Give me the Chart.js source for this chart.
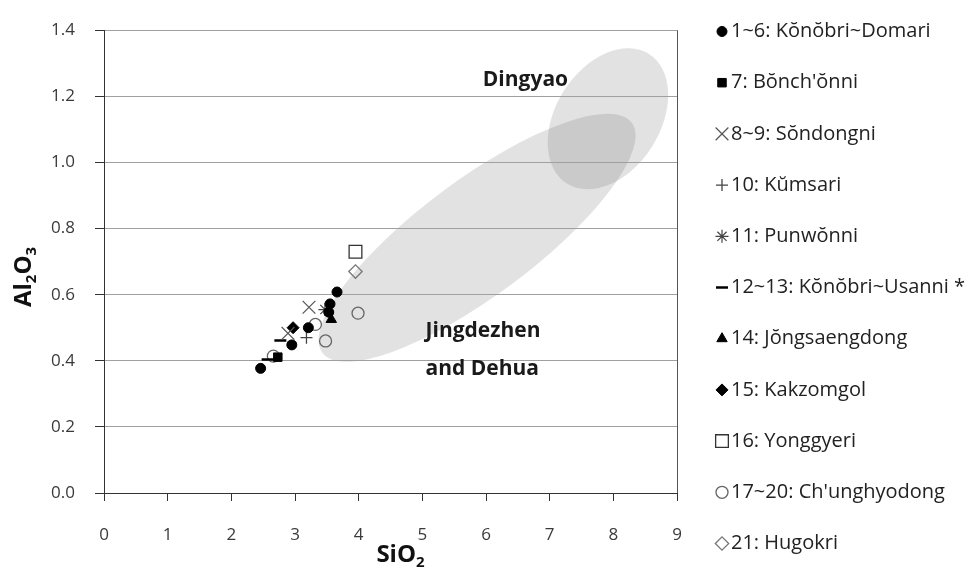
<!DOCTYPE html>
<html>
<head>
<meta charset="utf-8">
<script src="https://cdn.jsdelivr.net/npm/chart.js@4.4.0/dist/chart.umd.min.js"></script>
<style>
  html, body { margin: 0; padding: 0; background: #fff; }
  #wrap { width: 974px; height: 567px; }
</style>
</head>
<body>
<div id="wrap"><canvas id="chart"></canvas></div>
<script>
// site groups, in legend order
const siteLabels = [
    "1~6: Kŏnŏbri~Domari",
    "7: Bŏnch'ŏnni",
    "8~9: Sŏndongni",
    "10: Kŭmsari",
    "11: Punwŏnni",
    "12~13: Kŏnŏbri~Usanni *",
    "14: Jŏngsaengdong",
    "15: Kakzomgol",
    "16: Yonggyeri",
    "17~20: Ch'unghyodong",
    "21: Hugokri",
];

// SiO2 / Al2O3, one inner array per site group
const sio2Values = [
    [2.46, 2.95, 3.21, 3.55, 3.53, 3.66],
    [2.73],
    [3.22, 2.89],
    [3.18],
    [3.47],
    [2.77, 2.57],
    [3.57],
    [2.97],
    [3.95],
    [3.99, 3.48, 3.32, 2.66],
    [3.95],
];
const al2o3Values = [
    [0.377, 0.448, 0.5, 0.572, 0.547, 0.608],
    [0.411],
    [0.562, 0.483],
    [0.47],
    [0.555],
    [0.461, 0.404],
    [0.525],
    [0.5],
    [0.73],
    [0.544, 0.46, 0.51, 0.414],
    [0.67],
];

const sio2Ticks = [0, 1, 2, 3, 4, 5, 6, 7, 8, 9];
const al2o3Ticks = [0, 0.2, 0.4, 0.6, 0.8, 1.0, 1.2, 1.4];

// reference fields (major axis ends in data units + width ratio)
const regionAxisFrom = [[7.27, 0.936], [3.43, 0.424]];
const regionAxisTo = [[8.56, 1.328], [8.29, 1.12]];
const regionWidthRatio = [0.68, 0.3];
const regionText = ["Dingyao", "Jingdezhen", "and Dehua"];
const regionTextAt = [[5.95, 1.232], [5.05, 0.473], [5.05, 0.356]];

// marker look per group
const markerStyles = [
    { pointStyle: "circle", pointRadius: 5, pointBackgroundColor: "#000", pointBorderColor: "#000", pointBorderWidth: 1 },
    { pointStyle: "rect", pointRadius: 6, pointBackgroundColor: "#000", pointBorderColor: "#000", pointBorderWidth: 1 },
    { pointStyle: "crossRot", pointRadius: 9, pointBackgroundColor: "transparent", pointBorderColor: "#555", pointBorderWidth: 1.2 },
    { pointStyle: "cross", pointRadius: 6, pointBackgroundColor: "transparent", pointBorderColor: "#444", pointBorderWidth: 1.3 },
    { pointStyle: "star", pointRadius: 6.5, pointBackgroundColor: "transparent", pointBorderColor: "#444", pointBorderWidth: 1.2 },
    { pointStyle: "line", pointRadius: 6, pointBackgroundColor: "#000", pointBorderColor: "#000", pointBorderWidth: 2.5 },
    { pointStyle: "triangle", pointRadius: 6, pointBackgroundColor: "#000", pointBorderColor: "#000", pointBorderWidth: 1 },
    { pointStyle: "rectRot", pointRadius: 6, pointBackgroundColor: "#000", pointBorderColor: "#000", pointBorderWidth: 1 },
    { pointStyle: "rect", pointRadius: 9, pointBackgroundColor: "transparent", pointBorderColor: "#333", pointBorderWidth: 1.3 },
    { pointStyle: "circle", pointRadius: 6, pointBackgroundColor: "transparent", pointBorderColor: "#666", pointBorderWidth: 1.3 },
    { pointStyle: "rectRot", pointRadius: 6.7, pointBackgroundColor: "transparent", pointBorderColor: "#777", pointBorderWidth: 1.3 },
];

const datasets = siteLabels.map((label, i) => ({
    label: label,
    data: sio2Values[i].map((x, j) => ({ x: x, y: al2o3Values[i][j] })),
    showLine: false,
    ...markerStyles[i],
}));

const FONT = '"Open Sans", "Noto Sans", sans-serif';

// grey ellipses behind everything, grid lines stay visible on top
const regionsPlugin = {
    id: "regions",
    beforeDraw(chart) {
        const { ctx, chartArea: a, scales: { x, y } } = chart;
        ctx.save();
        ctx.beginPath();
        ctx.rect(a.left, a.top, a.right - a.left, a.bottom - a.top);
        ctx.clip();
        ctx.fillStyle = "rgba(100,100,100,0.19)";
        regionAxisFrom.forEach((from, i) => {
            const x1 = x.getPixelForValue(from[0]), y1 = y.getPixelForValue(from[1]);
            const x2 = x.getPixelForValue(regionAxisTo[i][0]), y2 = y.getPixelForValue(regionAxisTo[i][1]);
            const rx = Math.hypot(x2 - x1, y2 - y1) / 2;
            ctx.beginPath();
            ctx.ellipse((x1 + x2) / 2, (y1 + y2) / 2, rx, rx * regionWidthRatio[i], Math.atan2(y2 - y1, x2 - x1), 0, Math.PI * 2);
            ctx.fill();
        });
        ctx.restore();
    },
    afterDatasetsDraw(chart) {
        const { ctx, scales: { x, y } } = chart;
        ctx.save();
        ctx.fillStyle = "#1a1a1a";
        ctx.font = "bold 21px " + FONT;
        ctx.textAlign = "left";
        ctx.textBaseline = "alphabetic";
        regionText.forEach((t, i) => {
            ctx.fillText(t, x.getPixelForValue(regionTextAt[i][0]), y.getPixelForValue(regionTextAt[i][1]));
        });
        ctx.restore();
    },
};

// chemical formula with digits as subscripts
function drawFormula(ctx, text, cx, baseline, size) {
    const parts = text.match(/[A-Za-z]+|\d+/g);
    const big = "bold " + size + "px " + FONT;
    const small = "bold " + Math.round(size * 0.62) + "px " + FONT;
    let w = 0;
    parts.forEach(p => {
        ctx.font = /\d/.test(p) ? small : big;
        w += ctx.measureText(p).width;
    });
    let px = cx - w / 2;
    ctx.textAlign = "left";
    ctx.textBaseline = "alphabetic";
    parts.forEach(p => {
        const sub = /\d/.test(p);
        ctx.font = sub ? small : big;
        ctx.fillText(p, px, baseline + (sub ? size * 0.22 : 0));
        px += ctx.measureText(p).width;
    });
}

const decorPlugin = {
    id: "decor",
    afterDraw(chart) {
        const { ctx, chartArea: a } = chart;
        ctx.save();
        // right frame line
        ctx.strokeStyle = "#555";
        ctx.lineWidth = 1;
        ctx.beginPath();
        ctx.moveTo(Math.round(a.right) + 0.5, a.top);
        ctx.lineTo(Math.round(a.right) + 0.5, a.bottom);
        ctx.stroke();

        // axis titles
        ctx.fillStyle = "#111";
        drawFormula(ctx, "SiO2", (a.left + a.right) / 2 + 10, chart.height - 5, 24);
        ctx.save();
        ctx.translate(31, 277);
        ctx.rotate(-Math.PI / 2);
        drawFormula(ctx, "Al2O3", 0, 0, 24);
        ctx.restore();

        // legend column
        const lx = a.right + 45;
        chart.data.datasets.forEach((ds, i) => {
            const ly = 31.5 + i * 51.2;
            ctx.fillStyle = ds.pointBackgroundColor;
            ctx.strokeStyle = ds.pointBorderColor;
            ctx.lineWidth = ds.pointBorderWidth;
            Chart.helpers.drawPoint(ctx, {
                pointStyle: ds.pointStyle,
                radius: ds.pointRadius,
                borderWidth: ds.pointBorderWidth,
                rotation: 0,
            }, lx, ly);
            ctx.fillStyle = "#222";
            ctx.font = "20px " + FONT;
            ctx.textAlign = "left";
            ctx.textBaseline = "middle";
            ctx.fillText(ds.label, lx + 9, ly);
        });
        ctx.restore();
    },
};

new Chart(document.getElementById("chart").getContext("2d"), {
    type: "scatter",
    data: { datasets: datasets },
    options: {
        responsive: true,
        maintainAspectRatio: false,
        animation: false,
        layout: { padding: { left: 0, top: 20, right: 297, bottom: 0 } },
        plugins: {
            legend: { display: false },
            tooltip: { enabled: false },
        },
        scales: {
            x: {
                type: "linear",
                min: 0,
                max: 9,
                afterBuildTicks: s => { s.ticks = sio2Ticks.map(v => ({ value: v })); },
                afterFit: s => { s.height = 74; },
                grid: { drawOnChartArea: false, tickLength: 8, tickColor: "#333" },
                border: { color: "#333" },
                ticks: { color: "#3a3a3a", font: { family: FONT, size: 17 }, padding: 24, maxRotation: 0 },
            },
            y: {
                type: "linear",
                min: 0,
                max: 1.4,
                afterBuildTicks: s => { s.ticks = al2o3Ticks.map(v => ({ value: v })); },
                afterFit: s => { s.width = 104; },
                grid: { color: "#a0a0a0", tickLength: 9, tickColor: "#333" },
                border: { color: "#333" },
                ticks: { color: "#3a3a3a", font: { family: FONT, size: 17 }, padding: 20, callback: v => v.toFixed(1) },
            },
        },
    },
    plugins: [regionsPlugin, decorPlugin],
});
</script>
</body>
</html>
